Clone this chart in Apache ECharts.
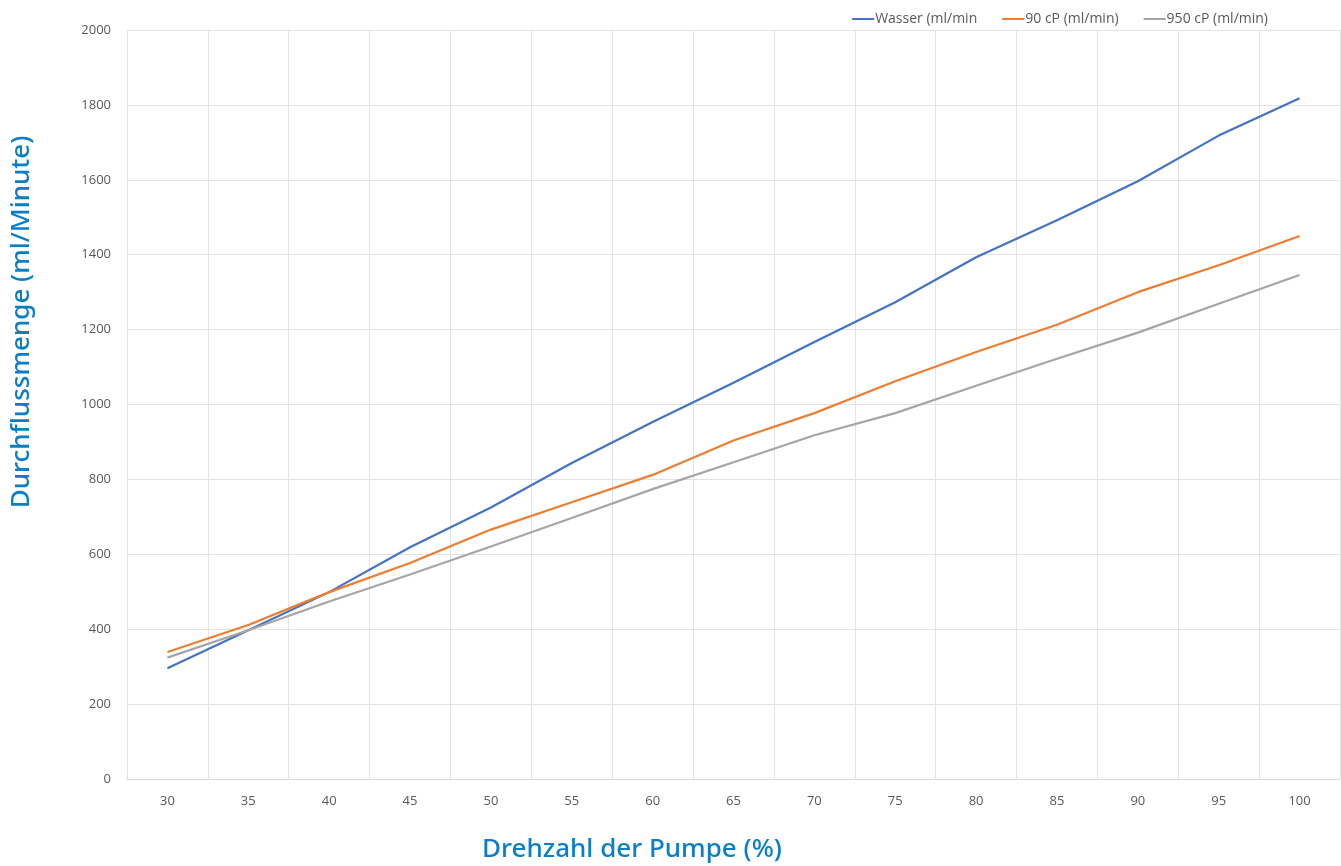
<!DOCTYPE html>
<html><head><meta charset="utf-8">
<script src="https://cdn.jsdelivr.net/npm/echarts@6/dist/echarts.min.js"></script>
<style>html,body{margin:0;padding:0;background:#fff}#c{width:1341px;height:866px}</style>
</head><body><div id="c"></div>
<script>
const categories = ['30','35','40','45','50','55','60','65','70','75','80','85','90','95','100'];
const wasser = [296, 397, 499, 619, 725, 844, 953, 1058, 1167, 1273, 1393, 1492, 1596, 1718, 1818];
const cp90   = [339, 411, 499, 577, 666, 739, 812, 904, 977, 1062, 1140, 1213, 1300, 1372, 1450];
const cp950  = [324, 397, 474, 546, 621, 697, 774, 846, 918, 977, 1050, 1122, 1192, 1269, 1346];
const seriesNames = ['Wasser (ml/min', '90 cP (ml/min)', '950 cP (ml/min)'];
const colors = ['#4472C4', '#ED7D31', '#A5A5A5'];
const yTicks = { min: 0, max: 2000, interval: 200 };

const chart = echarts.init(document.getElementById('c'));
const labelFont = 'Open Sans';
chart.setOption({
  animation: false,
  color: colors,
  textStyle: { fontFamily: labelFont },
  legend: {
    top: 7, right: 68, itemGap: 25, itemWidth: 22, itemHeight: 2,
    icon: 'rect',
    textStyle: { color: '#595959', fontSize: 14, padding: [0,0,0,-4] },
    data: seriesNames
  },
  grid: { left: 127, right: 1, top: 30, bottom: 87, containLabel: false },
  xAxis: {
    type: 'category', data: categories, boundaryGap: true,
    axisLine: { lineStyle: { color: '#d9d9d9' } },
    axisTick: { show: false },
    axisLabel: { color: '#595959', fontSize: 13, margin: 16 },
    splitLine: { show: true, lineStyle: { color: '#e3e3e3' } }
  },
  yAxis: {
    type: 'value', min: yTicks.min, max: yTicks.max, interval: yTicks.interval,
    axisLine: { show: false }, axisTick: { show: false },
    axisLabel: { color: '#595959', fontSize: 13, margin: 16, formatter: v => String(v) },
    splitLine: { lineStyle: { color: '#e3e3e3' } }
  },
  graphic: [
    { type: 'text', x: 632, y: 850, style: { text: 'Drehzahl der Pumpe (%)', fill: '#0a7fc7', font: '500 26px "Noto Sans"', textAlign: 'center', textVerticalAlign: 'middle' } },
    { type: 'text', x: 22, y: 322, rotation: Math.PI/2, style: { text: 'Durchflussmenge (ml/Minute)', fill: '#0a7fc7', font: '500 26px "Noto Sans"', textAlign: 'center', textVerticalAlign: 'middle' } }
  ],
  series: [
    { name: seriesNames[0], type: 'line', data: wasser, symbol: 'none', lineStyle: { width: 2.2 } },
    { name: seriesNames[1], type: 'line', data: cp90, symbol: 'none', lineStyle: { width: 2.2 } },
    { name: seriesNames[2], type: 'line', data: cp950, symbol: 'none', lineStyle: { width: 2.2 } }
  ]
});
</script></body></html>
